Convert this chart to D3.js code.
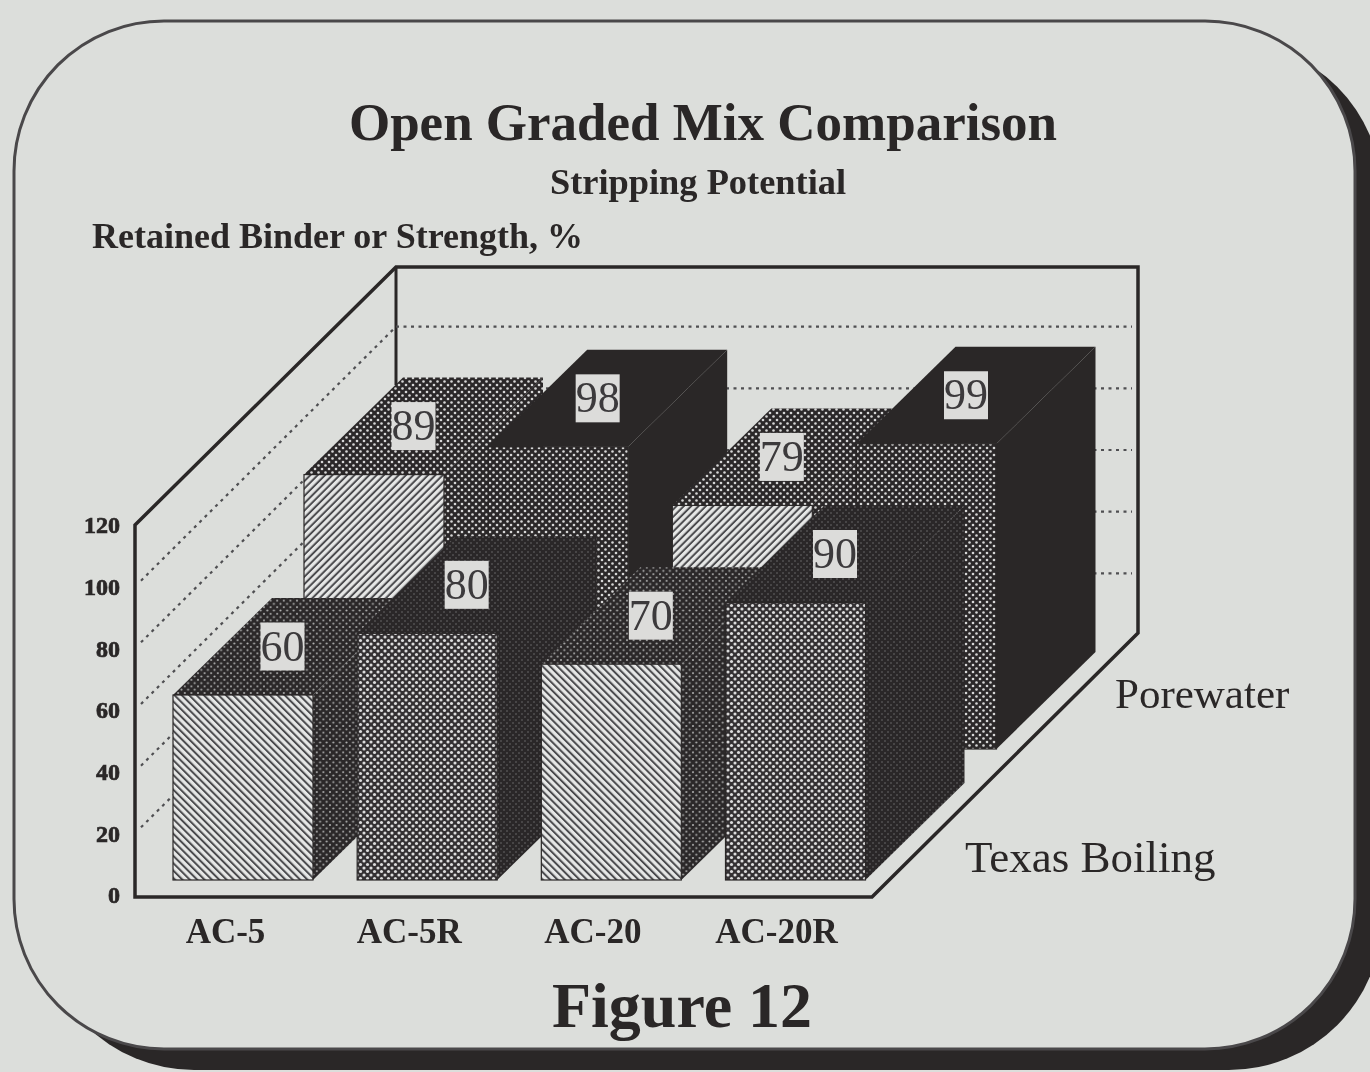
<!DOCTYPE html>
<html><head><meta charset="utf-8">
<script src="https://cdn.jsdelivr.net/npm/d3@7"></script>
<style>html,body{margin:0;padding:0;background:#dcdedb;overflow:hidden}svg{display:block;filter:blur(.45px)}
text{font-family:"Liberation Serif",serif}</style></head><body><div id="c"></div>
<script>
const categories=["AC-5","AC-5R","AC-20","AC-20R"];
const seriesNames=["Texas Boiling","Porewater"];
const texasBoiling=[60,80,70,90];
const porewater=[89,98,79,99];
const tickValues=[0,20,40,60,80,100,120];
const gridValues=[20,40,60,80,100];

const ink="#2a2727";
const svg=d3.select("#c").append("svg").attr("width",1370).attr("height",1072);
const defs=svg.append("defs");
function hatch(id,angle){
  const p=defs.append("pattern").attr("id",id).attr("patternUnits","userSpaceOnUse").attr("width",5.2).attr("height",5.2).attr("patternTransform",`rotate(${angle})`);
  p.append("rect").attr("width",5.2).attr("height",5.2).attr("fill","#4a4a4d");
  p.append("rect").attr("width",5.2).attr("height",3.2).attr("fill","#e6e7e6");
}
function dots(id,bg,col,r,s){
  const p=defs.append("pattern").attr("id",id).attr("patternUnits","userSpaceOnUse").attr("width",s).attr("height",s);
  p.append("rect").attr("width",s).attr("height",s).attr("fill",bg);
  [[0,0],[s,0],[0,s],[s,s],[s/2,s/2]].forEach(([x,y])=>p.append("circle").attr("cx",x).attr("cy",y).attr("r",r).attr("fill",col));
}
hatch("hatchBack",45);hatch("hatchFwd",-45);
dots("dotsLight","#343133","#dcdcdc",1.55,7);
dots("dotsMid","#2b2829","#d6d6d6",1.3,7);
dots("dotsDark","#2b2829","#b0b0b0",1.05,6.6);
dots("dotsFaint","#2a2728","#545253",0.95,6);

const yHeight=d3.scaleLinear().domain([0,120]).range([0,370]);
const x=d3.scalePoint().domain(categories).range([173,725.5]);
const barW=140, depth={dx:99,dy:-97};
const rowOffset=d3.scaleOrdinal().domain(seriesNames).range([[0,0],[131,-131]]);
const base=880;

/* card */
const card={x:14,y:21,w:1341,h:1028,r:150};
svg.append("rect").attr("x",card.x+27).attr("y",card.y+21).attr("width",card.w).attr("height",card.h).attr("rx",card.r+3).attr("fill",ink);
svg.append("rect").attr("x",card.x).attr("y",card.y).attr("width",card.w).attr("height",card.h).attr("rx",card.r).attr("fill","#dcdedb").attr("stroke","#4a484a").attr("stroke-width",3);

/* walls */
const wall={left:135,floor:895,back:{dx:261,dy:-260},frontRight:872};
const wallY=v=>wall.floor-yHeight(v);
const lineG=svg.append("g");
const grid=svg.append("g").attr("fill","none").attr("stroke","#4f4f52").attr("stroke-width",2.2).attr("stroke-dasharray","3 4.5");
gridValues.forEach(v=>{
  grid.append("path").attr("d",d3.line()([[wall.left+6,wallY(v)-6],[wall.left+wall.back.dx,wallY(v)+wall.back.dy]]));
  grid.append("path").attr("d",d3.line()([[wall.left+wall.back.dx,wallY(v)+wall.back.dy],[1132,wallY(v)+wall.back.dy]]));
});
const wallTop=wallY(120);
lineG.append("path").attr("fill","none").attr("stroke",ink).attr("stroke-width",3.5).attr("stroke-linejoin","miter")
 .attr("d",d3.line()([[wall.left,wallTop],[wall.left+wall.back.dx,wallTop+wall.back.dy+2],[1138,wallTop+wall.back.dy+2],[1138,wall.floor+wall.back.dy-2],[wall.frontRight,wall.floor+2],[wall.left,wall.floor+2]])+"Z");
lineG.append("path").attr("stroke",ink).attr("stroke-width",3).attr("d",d3.line()([[wall.left+wall.back.dx,wallTop+wall.back.dy+2],[wall.left+wall.back.dx,385]]));

/* bars */
const frontStyle=[["hatchBack","dotsDark","dotsDark"],["dotsLight","dotsFaint","dotsFaint"]];
const backStyle=[["hatchFwd","dotsMid","dotsMid"],["dotsMid","solid","solid"]];
const fillOf=id=>id==="solid"?ink:`url(#${id})`;
function drawRow(name,values,styles){
  const [ox,oy]=rowOffset(name);
  const g=svg.append("g");
  const lab=[];
  categories.forEach((c,i)=>{
    const st=styles[i%2], v=values[i];
    const x0=x(c)+ox, x1=x0+barW, yb=base+oy, yt=yb-yHeight(v);
    const bar=g.append("g");
    bar.append("path").attr("fill",fillOf(st[2])).attr("d",d3.line()([[x1,yt],[x1+depth.dx,yt+depth.dy],[x1+depth.dx,yb+depth.dy],[x1,yb]])+"Z");
    bar.append("path").attr("fill",fillOf(st[1])).attr("d",d3.line()([[x0,yt],[x1,yt],[x1+depth.dx,yt+depth.dy],[x0+depth.dx,yt+depth.dy]])+"Z");
    bar.append("rect").attr("x",x0).attr("y",yt).attr("width",barW).attr("height",yb-yt).attr("fill",fillOf(st[0])).attr("stroke",ink).attr("stroke-width",1.2);
    lab.push({v,cx:x0+barW/2+depth.dx/2-10,cy:yt+depth.dy/2});
  });
  return lab;
}
const backLab=drawRow("Porewater",porewater,backStyle);
const backLabG=svg.append("g");
function drawLabels(g,lab){
  lab.forEach(d=>{
    g.append("rect").attr("x",d.cx-22).attr("y",d.cy-24).attr("width",44).attr("height",48).attr("fill","#dcdcda");
    g.append("text").attr("x",d.cx).attr("y",d.cy+14).attr("text-anchor","middle").attr("font-size",44).attr("fill","#3c3a3c").text(d.v);
  });
}
drawLabels(backLabG,backLab);
const frontLab=drawRow("Texas Boiling",texasBoiling,frontStyle);
const labG=svg.append("g");
drawLabels(labG,frontLab);

/* axes */
const yAxisScale=d3.scaleLinear().domain([0,120]).range([wall.floor,wallY(120)]);
const yAx=svg.append("g").attr("transform","translate(122,0)").call(d3.axisLeft(yAxisScale).tickValues(tickValues).tickSize(0).tickPadding(2));
yAx.select(".domain").remove();
yAx.selectAll("text").style("font-family","'Liberation Serif',serif").style("font-weight","bold").style("font-size","24px").style("stroke",ink).style("stroke-width","0.7px").attr("fill",ink);

const xLab=d3.scalePoint().domain(categories).range([225,776]);
const xAx=svg.append("g").attr("transform","translate(0,918)").call(d3.axisBottom(xLab).tickSize(0).tickPadding(0));
xAx.select(".domain").remove();
xAx.selectAll("text").style("font-family","'Liberation Serif',serif").style("font-weight","bold").style("font-size","35px").attr("fill",ink).attr("dy","0.71em");

function txt(s,xp,yp,size,weight,anchor){
  svg.append("text").attr("x",xp).attr("y",yp).attr("font-size",size).attr("font-weight",weight).attr("text-anchor",anchor).attr("fill",ink).text(s);
}
txt("Open Graded Mix Comparison",703,140,53,"bold","middle");
txt("Stripping Potential",698,194,36.4,"bold","middle");
txt("Retained Binder or Strength, %",92,248,36,"bold","start");
txt("Figure 12",682,1027,64,"bold","middle");
txt("Porewater",1115,708,43,"normal","start");
txt("Texas Boiling",965,872,45,"normal","start");
</script></body></html>
